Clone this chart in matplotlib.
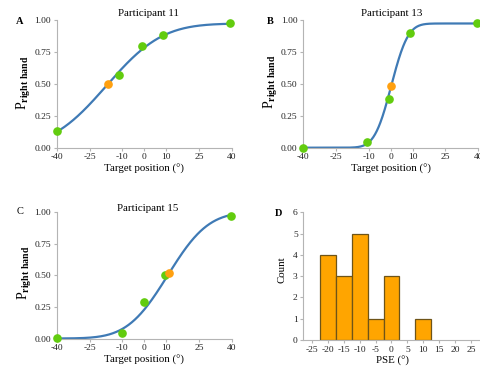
import math
import numpy as np
import matplotlib
matplotlib.use("Agg")
import matplotlib.pyplot as plt

plt.rcParams['font.family'] = ['Liberation Serif', 'DejaVu Serif']
plt.rcParams['mathtext.fontset'] = 'custom'
plt.rcParams['mathtext.rm'] = 'Liberation Serif'
plt.rcParams['mathtext.bf'] = 'Liberation Serif:bold'
plt.rcParams['axes.unicode_minus'] = False

# observed proportions (green) and PSE (orange) per participant
p11_x = [-40, -11.5, -1.2, 8.7, 39]
p11_y = [0.13, 0.57, 0.80, 0.885, 0.975]
p11_pse = (-16.6, 0.497)
p11_fit = (-17.2, 20.0, 0.975)   # mu, sigma, upper asymptote

p13_x = [-40, -10.9, -0.9, 9.0, 39.3]
p13_y = [0.0, 0.045, 0.385, 0.90, 0.975]
p13_pse = (0.3, 0.485)
p13_fit = (0.3, 6.0, 0.975)

p15_x = [-40, -10.3, -0.2, 9.7, 39.8]
p15_y = [0.005, 0.045, 0.29, 0.505, 0.965]
p15_pse = (11.4, 0.515)
p15_fit = (10.8, 14.5, 1.0)

# PSE histogram
pse_bins = [-20, -15, -10, -5, 0, 5, 10]
pse_counts = [4, 3, 5, 1, 3, 0, 1]

target_ticks = [-40, -25, -10, 0, 10, 25, 40]

GREEN = '#62cc0e'
ORANGE = '#ffa010'
BLUE = '#3f7ab5'
GREY = '#b4b4b4'

W, H = 480, 367
fig = plt.figure(figsize=(W / 100, H / 100), dpi=100)


def px_axes(l, t, r, b):
    return fig.add_axes([l / W, 1 - b / H, (r - l) / W, (b - t) / H])


def style(ax):
    for s in ['top', 'right']:
        ax.spines[s].set_visible(False)
    for s in ['left', 'bottom']:
        ax.spines[s].set_color(GREY)
        ax.spines[s].set_linewidth(0.8)
    ax.tick_params(colors=GREY, labelcolor='#222222', labelsize=6.8,
                   length=2.5, width=0.8, pad=1.5)


erf = np.vectorize(math.erf)


def psych(x, mu, sigma, upper):
    return upper * 0.5 * (1 + erf((x - mu) / (sigma * math.sqrt(2))))


def panel(ax, xs, ys, pse, fit, title, tx):
    style(ax)
    xx = np.linspace(-40, 40, 400)
    ax.plot(xx, psych(xx, *fit), color=BLUE, lw=1.6, clip_on=False, zorder=2)
    ax.plot(xs, ys, 'o', color=GREEN, ms=5.2, clip_on=False, zorder=3)
    ax.plot([pse[0]], [pse[1]], 'o', color=ORANGE, ms=5.2, clip_on=False, zorder=4)
    ax.set_xlim(-40, 40)
    ax.set_ylim(0, 1)
    ax.set_xticks(target_ticks)
    ax.set_yticks([0, 0.25, 0.5, 0.75, 1.0])
    ax.set_yticklabels(['0.00', '0.25', '0.50', '0.75', '1.00'])
    ax.set_xlabel('Target position (°)', fontsize=7.8, labelpad=2)


def ftext(x, y, s, **kw):
    fig.text(x / W, 1 - y / H, s, ha='center', va='center', **kw)


ylab = r'$\mathrm{P}_{\mathbf{right\ hand}}$'

axA = px_axes(56.7, 20.3, 231.7, 147.7)
panel(axA, p11_x, p11_y, p11_pse, p11_fit, 'Participant 11', 148)
ftext(148, 14, 'Participant 11', fontsize=7.8)
ftext(20, 22, 'A', fontsize=7.5, fontweight='bold')
ftext(24, 83, ylab, fontsize=10, rotation=90)

axB = px_axes(303, 20.3, 478.3, 147.7)
panel(axB, p13_x, p13_y, p13_pse, p13_fit, 'Participant 13', 392)
ftext(392, 14, 'Participant 13', fontsize=7.8)
ftext(270, 21, 'B', fontsize=7.5, fontweight='bold')
ftext(271, 82, ylab, fontsize=10, rotation=90)

axC = px_axes(56.7, 212, 231.7, 338.5)
panel(axC, p15_x, p15_y, p15_pse, p15_fit, 'Participant 15', 148)
ftext(148, 208, 'Participant 15', fontsize=7.8)
ftext(20, 212, 'C', fontsize=7.5)
ftext(24.5, 273, ylab, fontsize=10, rotation=90)

axD = px_axes(303.3, 212.3, 480.9, 340)
style(axD)
bx = [c for c, n in zip(pse_bins, pse_counts) if n > 0]
bh = [n for n in pse_counts if n > 0]
axD.bar(bx, bh, width=5, color='#ffa500', edgecolor='#6e5418', linewidth=0.9, zorder=2)
axD.set_xlim(-27.7, 28.1)
axD.set_ylim(0, 6)
axD.set_xticks(range(-25, 30, 5))
axD.set_yticks(range(0, 7))
axD.set_xlabel('PSE (°)', fontsize=7.8, labelpad=2)
ftext(279, 213, 'D', fontsize=7.5, fontweight='bold')
ftext(282, 270, 'Count', fontsize=7.8, rotation=90)

fig.savefig('out.png', dpi=100)
